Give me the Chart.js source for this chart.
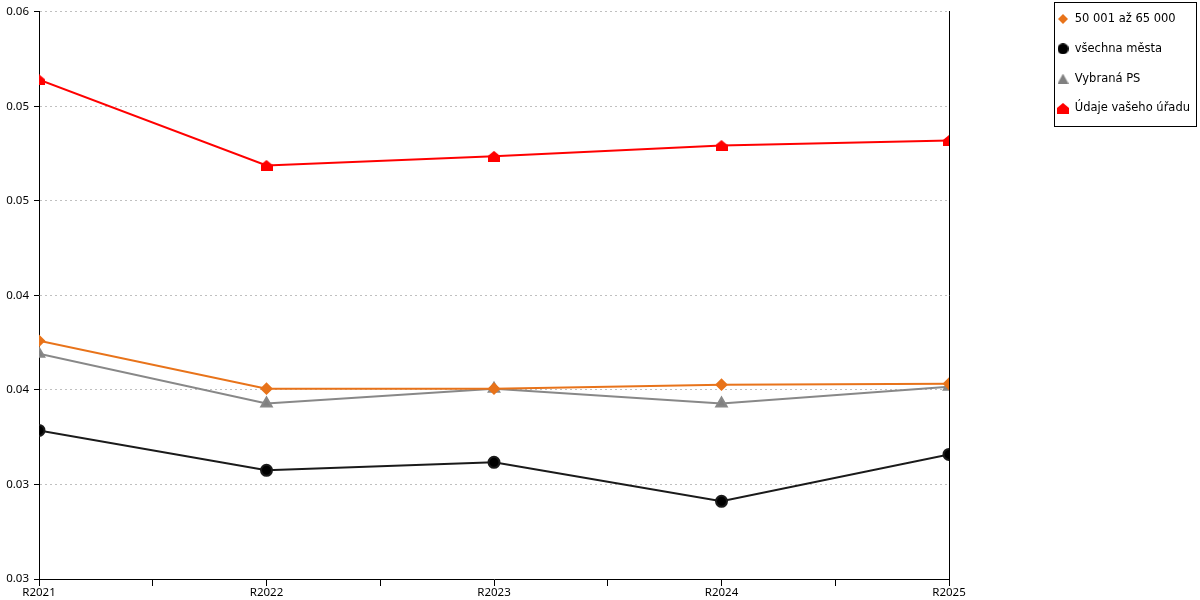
<!DOCTYPE html>
<html><head><meta charset="utf-8">
<script src="https://cdn.jsdelivr.net/npm/chart.js@4"></script>
<style>html,body{margin:0;padding:0;background:#fff}#w{width:1200px;height:600px}</style>
</head><body><div id="w"><canvas id="c" width="1200" height="600"></canvas></div>
<script>
const categories = ['R2021','R2022','R2023','R2024','R2025'];
const seriesNames = ['50 001 až 65 000','všechna města','Vybraná PS','Údaje vašeho úřadu'];
const orangeValues = [0.0426, 0.04007, 0.04007, 0.04028, 0.04033];
const blackValues  = [0.03786, 0.03575, 0.03617, 0.03411, 0.03659];
const grayValues   = [0.04192, 0.03928, 0.04007, 0.03928, 0.04017];
const redValues    = [0.05641, 0.05188, 0.05236, 0.05293, 0.0532];
const yTickValues = [0.03, 0.035, 0.04, 0.045, 0.05, 0.055, 0.06];
const yTickLabels = ['0.03','0.03','0.04','0.04','0.05','0.05','0.06'];

const AXIS_FONT = 'Noto Sans';
const LEGEND_FONT = 'DejaVu Sans';
function icon(kind, color, w, h){
  const c=document.createElement('canvas'); c.width=w; c.height=h;
  const g=c.getContext('2d'); g.fillStyle=color; g.beginPath();
  if(kind==='house'){ g.moveTo(w/2,0); g.lineTo(w,h*0.45); g.lineTo(w,h); g.lineTo(0,h); g.lineTo(0,h*0.45); }
  else if(kind==='diamond'){ g.moveTo(w/2,0); g.lineTo(w,h/2); g.lineTo(w/2,h); g.lineTo(0,h/2); }
  else if(kind==='triangle'){ g.moveTo(w/2,0); g.lineTo(w,h); g.lineTo(0,h); }
  else { g.arc(w/2,h/2,w/2,0,Math.PI*2); }
  g.closePath(); g.fill(); return c;
}
const legendIcons = [icon('diamond','#E8731A',10,10), icon('circle','#000',11,11), icon('triangle','#808080',11,10), icon('house','#FF0000',12,11)];
const pts = arr => arr.map((v,i)=>({x:i,y:v}));

const legendPlace = {
  id:'legendPlace',
  afterLayout(chart){
    const lg=chart.legend; if(!lg) return;
    const pad=lg.options.labels.padding;
    const dx=(chart.width-143)-(lg.left+pad), dy=13.25-(lg.top+pad);
    lg.left+=dx; lg.right+=dx; lg.top+=dy; lg.bottom+=dy;
  },
  afterDraw(chart){
    const lg=chart.legend; if(!lg||!lg.legendHitBoxes.length) return;
    const hb=lg.legendHitBoxes; const last=hb[hb.length-1];
    const ctx=chart.ctx; ctx.save(); ctx.strokeStyle='#000'; ctx.lineWidth=1;
    const l=Math.round(Math.min(...hb.map(h=>h.left))-3)+0.5, t=Math.round(hb[0].top-11)+0.5;
    const r=chart.width-4+0.5, b=Math.round(last.top+last.height+12)+0.5;
    ctx.strokeRect(l,t,r-l,b-t); ctx.restore();
  }
};

new Chart(document.getElementById('c'),{
  type:'line',
  data:{datasets:[
    {label:seriesNames[0],data:pts(orangeValues),borderColor:'#E8731A',backgroundColor:'#E8731A',pointStyle:'rectRot',pointRadius:5,pointHoverRadius:5,borderWidth:2},
    {label:seriesNames[1],data:pts(blackValues),borderColor:'#1a1a1a',backgroundColor:'#000',pointStyle:'circle',pointRadius:5.5,pointHoverRadius:5.5,borderWidth:2},
    {label:seriesNames[2],data:pts(grayValues),borderColor:'#888',backgroundColor:'#808080',pointStyle:'triangle',pointRadius:6,pointHoverRadius:6,borderWidth:2},
    {label:seriesNames[3],data:pts(redValues),borderColor:'#FF0000',backgroundColor:'#FF0000',pointStyle:icon('house','#FF0000',12,11),pointRadius:6,borderWidth:2}
  ]},
  options:{
    responsive:false,animation:false,
    layout:{autoPadding:false,padding:{left:0,top:10,right:0,bottom:0}},
    plugins:{
      tooltip:{enabled:false},
      legend:{position:'right',align:'start',
        labels:{usePointStyle:true,pointStyleWidth:12,boxHeight:12,padding:18.3,color:'#000',font:{family:LEGEND_FONT,size:11.5},
          generateLabels:(chart)=>{
            const items=Chart.defaults.plugins.legend.labels.generateLabels(chart);
            items.forEach((it,i)=>{it.pointStyle=legendIcons[i];});
            return items;
          }}}
    },
    scales:{
      x:{type:'linear',min:0,max:4,
        ticks:{stepSize:0.5,autoSkip:false,maxRotation:0,padding:0,color:'#000',font:{family:AXIS_FONT,size:11.5},
          callback:v=>Number.isInteger(v)?categories[v]:''},
        grid:{drawOnChartArea:false,drawTicks:true,tickLength:7,tickColor:'#000'},
        border:{display:true,color:'#000'},
        afterFit:s=>{s.height=21;}
      },
      y:{min:0.03,max:0.06,
        afterBuildTicks:s=>{s.ticks=yTickValues.map(v=>({value:v}));},
        ticks:{padding:5,color:'#000',font:{family:AXIS_FONT,size:11.5},callback:(v,i)=>yTickLabels[i]},
        grid:{color:'#c0c0c0',tickColor:'#000',tickLength:5},
        border:{display:true,color:'#000',dash:[2,3]},
        afterFit:s=>{s.width=39;}
      },
      y2:{position:'right',min:0.03,max:0.06,
        ticks:{display:false},grid:{display:false,drawTicks:false},
        border:{display:true,color:'#000'},
        afterFit:s=>{s.width=Math.max(0,251-(s.chart.legend?s.chart.legend.width:0));}
      }
    }
  },
  plugins:[legendPlace]
});
</script></body></html>
